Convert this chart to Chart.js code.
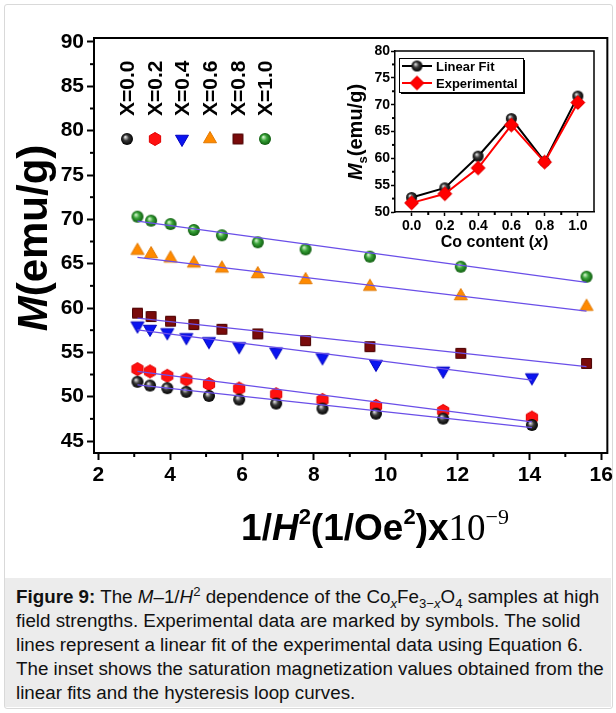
<!DOCTYPE html>
<html>
<head>
<meta charset="utf-8">
<script src="https://cdn.jsdelivr.net/npm/chart.js@4.4.1/dist/chart.umd.min.js"></script>
<style>
  body { margin: 0; background: #fff; width: 616px; height: 713px; position: relative; overflow: hidden; }
  #frame { position: absolute; left: 4px; top: 4px; width: 607px; height: 703px; border: 1px solid #d9d9d9; border-radius: 3px; }
  #main { position: absolute; left: 0; top: 0; }
  #inset { position: absolute; left: 330px; top: 30px; }
  #caption {
    position: absolute; left: 5px; top: 578px; width: 595px; height: 122px;
    background: #ececec; padding: 7px 0 0 11px; white-space: nowrap;
    font-family: 'Liberation Sans', Arial, sans-serif; font-size: 18.8px; line-height: 24px; color: #111;
  }
  #caption sub, #caption sup { font-size: 70%; line-height: 0; }
</style>
</head>
<body>
<div id="frame"></div>
<canvas id="main" width="616" height="575"></canvas>
<canvas id="inset" width="280" height="240"></canvas>
<div id="caption"><b>Figure 9:</b> The <i>M</i>–1/<i>H</i><sup>2</sup> dependence of the Co<sub><i>x</i></sub>Fe<sub>3−<i>x</i></sub>O<sub>4</sub> samples at high<br>field strengths. Experimental data are marked by symbols. The solid<br>lines represent a linear fit of the experimental data using Equation 6.<br>The inset shows the saturation magnetization values obtained from the<br>linear fits and the hysteresis loop curves.</div>
<script>
const FONT = "'Liberation Sans', Arial, sans-serif";

// composition labels
const comps = ['0.0', '0.2', '0.4', '0.6', '0.8', '1.0'];

// 1/H^2 values (x10^-9)
const xLow = [3.09, 3.44, 3.92, 4.45, 5.08, 5.92, 6.95, 8.24, 9.73, 11.60, 14.07];
const xHigh = [3.09, 3.47, 4.01, 4.66, 5.44, 6.44, 7.77, 9.56, 12.09, 15.59];

// M (emu/g) for each composition
const mX00 = [51.68, 51.26, 50.96, 50.55, 50.09, 49.68, 49.23, 48.66, 48.09, 47.53, 46.81];
const mX02 = [53.11, 52.85, 52.36, 51.94, 51.42, 50.92, 50.28, 49.64, 48.96, 48.40, 47.64];
const mX04 = [58.02, 57.64, 57.26, 56.70, 56.25, 55.68, 55.08, 54.43, 53.68, 52.92, 52.17];
const mX06 = [66.47, 66.09, 65.60, 65.04, 64.47, 63.83, 63.16, 62.41, 61.35, 60.15];
const mX08 = [59.42, 59.04, 58.51, 58.13, 57.60, 57.08, 56.32, 55.64, 54.89, 53.75];
const mX10 = [70.30, 69.85, 69.47, 68.80, 68.20, 67.41, 66.62, 65.79, 64.66, 63.53];

// linear fit end points
const fitX0 = [3.09, 3.09, 3.09, 3.09, 3.09, 3.09];
const fitY0 = [51.34, 52.85, 57.53, 65.71, 58.85, 69.80];
const fitX1 = [14.07, 14.07, 14.07, 15.59, 15.59, 15.59];
const fitY1 = [46.51, 47.15, 51.87, 59.64, 53.38, 62.90];

// inset: Ms vs Co content
const coContent = [0.0, 0.2, 0.4, 0.6, 0.8, 1.0];
const msFit = [52.7, 54.5, 60.4, 67.4, 59.4, 71.6];
const msExp = [51.7, 53.4, 58.2, 66.2, 59.3, 70.4];

// ---- marker images ----
function mk(size, draw) {
  const cv = document.createElement('canvas');
  cv.width = cv.height = size;
  draw(cv.getContext('2d'), size / 2);
  return cv;
}
function sphere(r, c0, c1, c2) {
  return mk(Math.ceil(2 * r + 2), (g, c) => {
    const grd = g.createRadialGradient(c - r * 0.3, c - r * 0.35, r * 0.05, c, c, r);
    grd.addColorStop(0, c0);
    grd.addColorStop(0.45, c1);
    grd.addColorStop(1, c2);
    g.fillStyle = grd;
    g.beginPath(); g.arc(c, c, r, 0, Math.PI * 2); g.fill();
  });
}
function poly(r, n, rot, fill, stroke) {
  return mk(Math.ceil(2 * r + 3), (g, c) => {
    g.beginPath();
    for (let i = 0; i < n; i++) {
      const a = rot + i * 2 * Math.PI / n;
      g.lineTo(c + r * Math.cos(a), c + r * Math.sin(a));
    }
    g.closePath();
    g.fillStyle = fill; g.fill();
    if (stroke) { g.strokeStyle = stroke; g.lineWidth = 1; g.stroke(); }
  });
}
const mkBlack = sphere(6, '#e8e8e8', '#3a3a3a', '#000');
const mkRed = poly(6.5, 6, -Math.PI / 2, '#ff1010', '#e00000');
const mkBlue = poly(7.5, 3, Math.PI / 2, '#0a14f0', '#0000c0');
const mkOrange = poly(7.5, 3, -Math.PI / 2, '#ff8a00', '#e07800');
const mkBrown = poly(7, 4, Math.PI / 4, '#7a0b0b', '#4a0000');
const mkGreen = sphere(6, '#d8f5d0', '#3aa43a', '#0c5a0c');
const markers = [mkBlack, mkRed, mkBlue, mkOrange, mkBrown, mkGreen];

const inBlack = sphere(5.5, '#e8e8e8', '#3a3a3a', '#000');
const inRed = poly(7, 4, 0, '#ff0000', '#e00000');

// ---- helpers ----
function richWidth(ctx, parts) {
  let w = 0;
  parts.forEach(p => { ctx.font = p.f; w += ctx.measureText(p.t).width; });
  return w;
}
function drawRich(ctx, parts, x, y) {
  let cx = x;
  parts.forEach(p => {
    ctx.font = p.f;
    ctx.fillText(p.t, cx, y + (p.dy || 0));
    cx += ctx.measureText(p.t).width;
  });
}
function minorTicks(ctx, scale, values, len, horizontal) {
  ctx.save();
  ctx.strokeStyle = '#000';
  ctx.lineWidth = 2;
  values.forEach(v => {
    const p = scale.getPixelForValue(v);
    ctx.beginPath();
    if (horizontal) { ctx.moveTo(p, scale.top); ctx.lineTo(p, scale.top + len); }
    else { ctx.moveTo(scale.right, p); ctx.lineTo(scale.right - len, p); }
    ctx.stroke();
  });
  ctx.restore();
}

// ---- main chart ----
const seriesX = [xLow, xLow, xLow, xHigh, xHigh, xHigh];
const seriesY = [mX00, mX02, mX04, mX06, mX08, mX10];

const datasets = [];
comps.forEach((c, i) => {
  datasets.push({
    type: 'line',
    label: 'fit ' + c,
    data: [{ x: fitX0[i], y: fitY0[i] }, { x: fitX1[i], y: fitY1[i] }],
    borderColor: '#6a4fe8',
    borderWidth: 1.2,
    pointRadius: 0,
    order: 0
  });
  datasets.push({
    type: 'scatter',
    label: 'X=' + c,
    data: seriesX[i].map((x, k) => ({ x: x, y: seriesY[i][k] })),
    pointStyle: markers[i],
    pointRadius: 6,
    order: 1
  });
});

const legendX = [127, 155, 182, 210, 238, 265];

const mainDecor = {
  id: 'mainDecor',
  afterDraw(chart) {
    const ctx = chart.ctx;
    const a = chart.chartArea;
    const sx = chart.scales.x, sy = chart.scales.y;
    // frame top / right
    ctx.save();
    ctx.strokeStyle = '#000';
    ctx.lineWidth = 2;
    ctx.beginPath();
    ctx.moveTo(a.left - 1, a.top); ctx.lineTo(a.right, a.top); ctx.lineTo(a.right, a.bottom + 1);
    ctx.stroke();
    ctx.restore();
    minorTicks(ctx, sx, [3, 5, 7, 9, 11, 13, 15], 4, true);
    minorTicks(ctx, sy, [47.5, 52.5, 57.5, 62.5, 67.5, 72.5, 77.5, 82.5, 87.5], 4, false);

    ctx.save();
    ctx.fillStyle = '#000';
    ctx.textBaseline = 'alphabetic';
    // x title
    const xt = [
      { t: '1/', f: 'bold 37px ' + FONT },
      { t: 'H', f: 'italic bold 37px ' + FONT },
      { t: '2', f: 'bold 22px ' + FONT, dy: -16 },
      { t: '(1/Oe', f: 'bold 37px ' + FONT },
      { t: '2', f: 'bold 22px ' + FONT, dy: -16 },
      { t: ')x', f: 'bold 37px ' + FONT },
      { t: '10', f: "37px 'Liberation Serif', serif" },
      { t: '\u22129', f: "22px 'Liberation Serif', serif", dy: -16 }
    ];
    drawRich(ctx, xt, 375 - richWidth(ctx, xt) / 2, 540);
    // y title
    const yt = [
      { t: 'M', f: 'italic bold 42px ' + FONT },
      { t: '(emu/g)', f: 'bold 42px ' + FONT }
    ];
    ctx.translate(47, 238);
    ctx.rotate(-Math.PI / 2);
    drawRich(ctx, yt, -richWidth(ctx, yt) / 2, 0);
    ctx.restore();

    // legend
    ctx.save();
    ctx.fillStyle = '#000';
    ctx.font = 'bold 21px ' + FONT;
    ctx.textBaseline = 'middle';
    comps.forEach((c, i) => {
      ctx.save();
      ctx.translate(legendX[i], 116);
      ctx.rotate(-Math.PI / 2);
      ctx.fillText('X=' + c, 0, 1);
      ctx.restore();
      const m = markers[i];
      ctx.drawImage(m, legendX[i] - m.width / 2, 139 - m.height / 2);
    });
    ctx.restore();
  }
};

const tickFont = { family: FONT, size: 21, weight: 'bold' };

new Chart(document.getElementById('main'), {
  data: { datasets: datasets },
  options: {
    responsive: false,
    animation: false,
    layout: { padding: { left: 0, top: 38, right: 7, bottom: 0 } },
    plugins: { legend: { display: false }, tooltip: { enabled: false } },
    scales: {
      x: {
        type: 'linear',
        min: 1.88, max: 16.17,
        afterFit: s => { s.height = 122; },
        ticks: { stepSize: 2, includeBounds: false, font: tickFont, color: '#000', padding: 3, maxRotation: 0 },
        grid: { drawOnChartArea: false, tickLength: 7, tickWidth: 2, tickColor: '#000' },
        border: { color: '#000', width: 2 }
      },
      y: {
        type: 'linear',
        min: 43.65, max: 90.45,
        afterFit: s => { s.width = 94; },
        ticks: { stepSize: 5, includeBounds: false, font: tickFont, color: '#000', padding: 3 },
        grid: { drawOnChartArea: false, tickLength: 7, tickWidth: 2, tickColor: '#000' },
        border: { color: '#000', width: 2 }
      }
    }
  },
  plugins: [mainDecor]
});

// ---- inset chart ----
const insetDecor = {
  id: 'insetDecor',
  afterDraw(chart) {
    const ctx = chart.ctx;
    const a = chart.chartArea;
    ctx.save();
    ctx.strokeStyle = '#000';
    ctx.lineWidth = 1.5;
    ctx.beginPath();
    ctx.moveTo(a.left, a.top); ctx.lineTo(a.right, a.top); ctx.lineTo(a.right, a.bottom);
    ctx.stroke();
    ctx.restore();
    minorTicks(ctx, chart.scales.x, [0.1, 0.3, 0.5, 0.7, 0.9], 3, true);
    minorTicks(ctx, chart.scales.y, [52.5, 57.5, 62.5, 67.5, 72.5, 77.5], 3, false);

    ctx.save();
    ctx.fillStyle = '#000';
    // x title
    const xt = [
      { t: 'Co content (', f: 'bold 16px ' + FONT },
      { t: 'x', f: 'italic bold 16px ' + FONT },
      { t: ')', f: 'bold 16px ' + FONT }
    ];
    ctx.textBaseline = 'alphabetic';
    drawRich(ctx, xt, (a.left + a.right) / 2 - richWidth(ctx, xt) / 2, 217);
    // y title
    const yt = [
      { t: 'M', f: 'italic bold 20px ' + FONT },
      { t: 's', f: 'bold 13px ' + FONT, dy: 5 },
      { t: '(emu/g)', f: 'bold 20px ' + FONT }
    ];
    ctx.save();
    ctx.translate(32, 102);
    ctx.rotate(-Math.PI / 2);
    drawRich(ctx, yt, -richWidth(ctx, yt) / 2, 0);
    ctx.restore();

    // legend box
    const bx = 69, by = 28, bw = 124, bh = 34;
    ctx.fillStyle = '#000';
    ctx.fillRect(bx + 2, by + 2, bw, bh);
    ctx.fillStyle = '#fff';
    ctx.fillRect(bx, by, bw, bh);
    ctx.strokeStyle = '#000';
    ctx.lineWidth = 1;
    ctx.strokeRect(bx + 0.5, by + 0.5, bw, bh);
    const rows = [
      { label: 'Linear Fit', color: '#000', img: inBlack, y: by + 8 },
      { label: 'Experimental', color: '#ff0000', img: inRed, y: by + 25 }
    ];
    rows.forEach(r => {
      ctx.strokeStyle = r.color;
      ctx.lineWidth = 2;
      ctx.beginPath();
      ctx.moveTo(bx + 3, r.y); ctx.lineTo(bx + 33, r.y);
      ctx.stroke();
      ctx.drawImage(r.img, bx + 18 - r.img.width / 2, r.y - r.img.height / 2);
      ctx.fillStyle = '#000';
      ctx.font = 'bold 13px ' + FONT;
      ctx.textBaseline = 'middle';
      ctx.fillText(r.label, bx + 37, r.y + 1);
    });
    ctx.restore();
  }
};

const inFont = { family: FONT, size: 14, weight: 'bold' };

new Chart(document.getElementById('inset'), {
  type: 'line',
  data: {
    datasets: [
      {
        label: 'Experimental',
        data: coContent.map((c, i) => ({ x: c, y: msExp[i] })),
        borderColor: '#ff0000',
        borderWidth: 2,
        pointStyle: inRed,
        pointRadius: 6
      },
      {
        label: 'Linear Fit',
        data: coContent.map((c, i) => ({ x: c, y: msFit[i] })),
        borderColor: '#000',
        borderWidth: 2,
        pointStyle: inBlack,
        pointRadius: 6
      }
    ]
  },
  options: {
    responsive: false,
    animation: false,
    layout: { padding: { left: 0, top: 21, right: 16, bottom: 0 } },
    plugins: { legend: { display: false }, tooltip: { enabled: false } },
    scales: {
      x: {
        type: 'linear',
        min: -0.1, max: 1.097,
        afterFit: s => { s.height = 58; },
        ticks: { stepSize: 0.2, includeBounds: false, font: inFont, color: '#000', padding: 2, maxRotation: 0,
          callback: v => v.toFixed(1) },
        grid: { drawOnChartArea: false, tickLength: 4, tickWidth: 1.5, tickColor: '#000' },
        border: { color: '#000', width: 1.5 }
      },
      y: {
        type: 'linear',
        min: 50, max: 80,
        afterFit: s => { s.width = 65; },
        ticks: { stepSize: 5, font: inFont, color: '#000', padding: 1 },
        grid: { drawOnChartArea: false, tickLength: 4, tickWidth: 1.5, tickColor: '#000' },
        border: { color: '#000', width: 1.5 }
      }
    }
  },
  plugins: [insetDecor]
});
</script>
</body>
</html>
